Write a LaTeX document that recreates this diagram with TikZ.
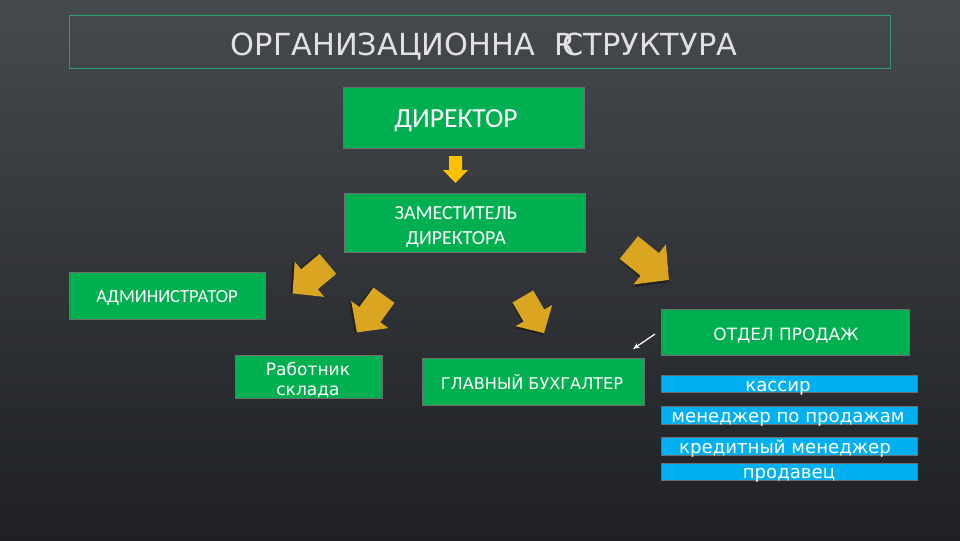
\documentclass[tikz,border=0pt]{standalone}
\usepackage{fontspec}
\setmainfont{DejaVu Sans}
\newfontfamily\calib{Carlito}
\newfontfamily\gothic{DejaVu Sans}
\usetikzlibrary{arrows.meta}
\definecolor{bgtop}{RGB}{70,73,78}
\definecolor{bgbot}{RGB}{30,32,35}
\definecolor{boxgreen}{RGB}{0,176,80}
\definecolor{boxblue}{RGB}{0,176,240}
\definecolor{arrgold}{RGB}{218,165,32}
\definecolor{arryel}{RGB}{255,192,0}
\definecolor{framegreen}{RGB}{40,160,110}
\definecolor{titlegray}{RGB}{225,225,225}
\definecolor{edgegray}{RGB}{110,110,110}
\tikzset{
  gbox/.style={fill=boxgreen, draw=edgegray, line width=0.6pt, inner sep=0pt, anchor=north west},
  bbox/.style={fill=boxblue, draw=edgegray, line width=0.6pt, inner sep=0pt, anchor=north west},
  txt/.style={text=white, inner sep=0pt, anchor=base},
  btxt/.style={txt, font=\gothic\fontsize{13.6}{14}\selectfont},
  barrow/.pic={\fill[black, opacity=0.35] (-22,-13) ++(1.5,1.5) -- ++(24,0) -- ++(0,-10) -- (25.5,1.5) -- (3.5,24.5) -- (3.5,14.5) -- (-20.5,14.5) -- cycle;
               \fill[arrgold] (-22,-13) -- (2,-13) -- (2,-23) -- (24,0) -- (2,23) -- (2,13) -- (-22,13) -- cycle;}
}
\begin{document}
\begin{tikzpicture}[x=0.75pt,y=-0.75pt]
\useasboundingbox (0,0) rectangle (960,540);
\shade[top color=bgtop, bottom color=bgbot] (0,0) rectangle (960,540);
% title frame
\node[draw=framegreen, line width=0.7pt, minimum width=821*0.75pt, minimum height=53*0.75pt, anchor=north west, inner sep=0pt] (frame) at (69,15) {};
\node[text=titlegray, inner sep=0pt, anchor=base, font=\gothic\fontsize{22.8}{26}\selectfont] (title) at (484,55) {ОРГАНИЗАЦИОННА\ \ R\kern-0.42em СТРУКТУРА};
% boxes
\node[gbox, minimum width=241*0.75pt, minimum height=61*0.75pt] (dir) at (343,87) {};
\node[txt, font=\calib\fontsize{20.7}{22}\selectfont] (dirt) at (456,127) {ДИРЕКТОР};
\node[gbox, minimum width=241*0.75pt, minimum height=59*0.75pt] (zam) at (344,193) {};
\node[txt, font=\calib\fontsize{15}{19}\selectfont] (zamt1) at (456,219) {ЗАМЕСТИТЕЛЬ};
\node[txt, font=\calib\fontsize{15}{19}\selectfont] (zamt2) at (456,244) {ДИРЕКТОРА};
\node[gbox, minimum width=196*0.75pt, minimum height=47*0.75pt] (adm) at (69,272) {};
\node[txt, font=\calib\fontsize{13.9}{15}\selectfont] (admt) at (167,302) {АДМИНИСТРАТОР};
\node[gbox, minimum width=147*0.75pt, minimum height=43*0.75pt] (sklad) at (235,355) {};
\node[txt, font=\gothic\fontsize{12.8}{15}\selectfont] (skladt1) at (308,375) {Работник};
\node[txt, font=\gothic\fontsize{12.8}{15}\selectfont] (skladt2) at (308,395) {склада};
\node[gbox, minimum width=222*0.75pt, minimum height=47*0.75pt] (buh) at (422,358) {};
\node[txt, font=\gothic\fontsize{12.1}{14}\selectfont] (buht) at (532,389) {ГЛАВНЫЙ БУХГАЛТЕР};
\node[gbox, minimum width=248*0.75pt, minimum height=46*0.75pt] (otdel) at (661,309) {};
\node[txt, font=\gothic\fontsize{12.7}{14}\selectfont] (otdelt) at (786,340) {ОТДЕЛ ПРОДАЖ};
\node[bbox, minimum width=256*0.75pt, minimum height=17*0.75pt] (kas) at (661,375) {};
\node[btxt] (kast) at (778,391) {кассир};
\node[bbox, minimum width=256*0.75pt, minimum height=18*0.75pt] (mpp) at (661,406) {};
\node[btxt] (mppt) at (788,422) {менеджер по продажам};
\node[bbox, minimum width=256*0.75pt, minimum height=18*0.75pt] (kred) at (661,437) {};
\node[btxt] (kredt) at (785,453) {кредитный менеджер};
\node[bbox, minimum width=256*0.75pt, minimum height=17*0.75pt] (prod) at (661,463) {};
\node[btxt] (prodt) at (789,478) {продавец};
% yellow down arrow
\fill[arryel] (449,156) -- (462,156) -- (462,170) -- (468,170) -- (455.5,183) -- (443,170) -- (449,170) -- cycle;
% block arrows
\pic[rotate=220] (a1) at (311,278) {barrow};
\pic[rotate=234] (a2) at (371,313) {barrow};
\pic[rotate=300, scale=0.92] (a3) at (533,314) {barrow};
\pic[rotate=321, scale=1.12] (a4) at (648,263) {barrow};
% small white arrow
\coordinate (ws) at (655,334);
\coordinate (we) at (633,349);
\draw[white, line width=0.9pt, -{Stealth[length=5pt,width=4pt]}] (ws) -- (we);
\end{tikzpicture}
\end{document}
